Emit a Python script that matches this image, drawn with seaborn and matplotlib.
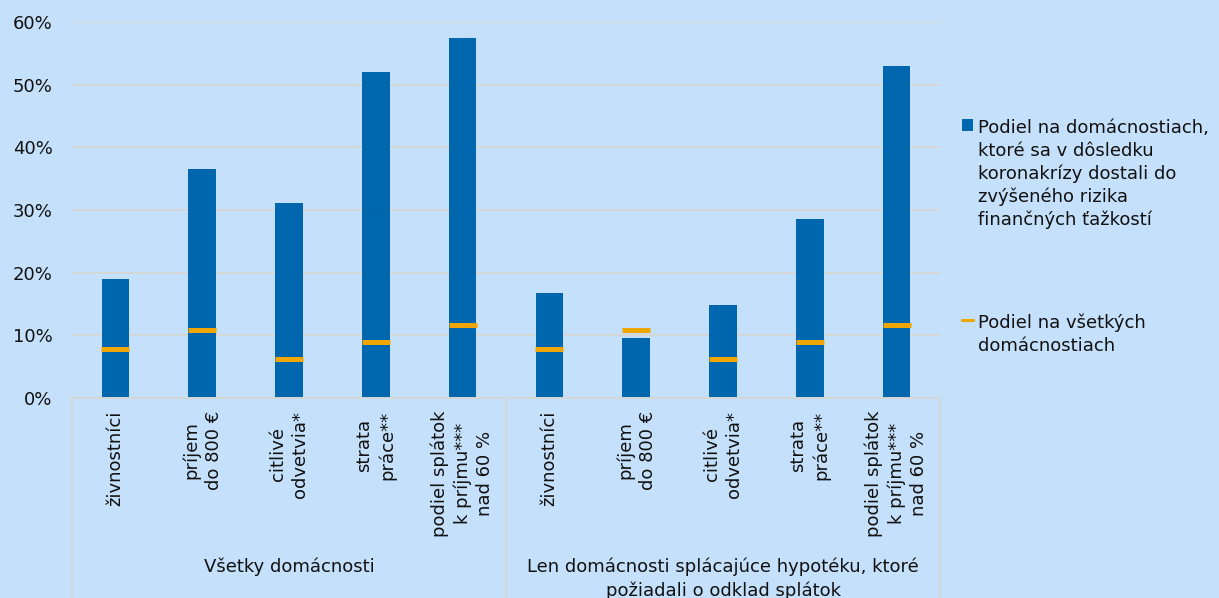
import numpy as np
import pandas as pd
import matplotlib
matplotlib.use("Agg")
import matplotlib.pyplot as plt
import seaborn as sns
from matplotlib.patches import Patch
from matplotlib.lines import Line2D
from matplotlib.ticker import FuncFormatter, MultipleLocator

# --- data -------------------------------------------------------------
categories = [
    "živnostníci",
    "príjem\ndo 800 €",
    "citlivé\nodvetvia*",
    "strata\npráce**",
    "podiel splátok\nk príjmu***\nnad 60 %",
]
groups = [
    "Všetky domácnosti",
    "Len domácnosti splácajúce hypotéku, ktoré\npožiadali o odklad splátok",
]
# share of households that moved into elevated risk of financial distress (%)
risk_share = [19.0, 36.5, 31.1, 52.0, 57.4, 16.8, 9.6, 14.8, 28.5, 52.9]
# share among all households (%)
all_share = [7.8, 10.8, 6.2, 8.9, 11.6, 7.8, 10.8, 6.2, 8.9, 11.6]

legend_labels = [
    "Podiel na domácnostiach,\nktoré sa v dôsledku\nkoronakrízy dostali do\nzvýšeného rizika\nfinančných ťažkostí",
    "Podiel na všetkých\ndomácnostiach",
]

BG = "#C5E0FA"
BLUE = "#0066AD"
ORANGE = "#F0A500"
GRID = "#D6D6D6"
INK = "#111111"

tick_labels = categories * len(groups)
df = pd.DataFrame({
    "pos": np.arange(len(risk_share)),
    "risk": risk_share,
    "all": all_share,
})

# --- figure -----------------------------------------------------------
sns.set_theme(style="white")
plt.rcParams["font.family"] = ["DejaVu Sans"]
plt.rcParams["text.color"] = INK

W, H = 1219, 598
fig = plt.figure(figsize=(W / 100, H / 100), dpi=100, facecolor=BG)
ax = fig.add_axes([72 / W, 200 / H, 868 / W, 376 / H])
ax.set_facecolor(BG)

sns.barplot(data=df, x="pos", y="risk", color=BLUE, saturation=1,
            width=0.32, edgecolor="none", ax=ax, zorder=2)
sns.scatterplot(data=df, x="pos", y="all", marker="_", s=378,
                linewidth=3.6, color=ORANGE, ax=ax, zorder=3, legend=False)

ax.set_xlim(-0.5, len(risk_share) - 0.5)
ax.set_ylim(0, 60)
ax.yaxis.set_major_locator(MultipleLocator(10))
ax.yaxis.set_major_formatter(FuncFormatter(lambda v, _: f"{v:.0f}%"))
ax.yaxis.grid(True, color=GRID, linewidth=1.4)
ax.set_axisbelow(True)
ax.set_xlabel("")
ax.set_ylabel("")

for side in ["top", "right", "left"]:
    ax.spines[side].set_visible(False)
ax.spines["bottom"].set_color(GRID)
ax.spines["bottom"].set_linewidth(1.4)

ax.tick_params(axis="y", length=0, pad=14, labelsize=13, labelcolor=INK)
ax.tick_params(axis="x", length=0, pad=9, labelsize=13, labelcolor=INK)
ax.set_xticks(df["pos"])
ax.set_xticklabels(tick_labels, rotation=90, ha="center", va="top",
                   multialignment="center", linespacing=1.3)

# group separators and group captions below the category labels
sep_depth = -200 / 376
for xf in [0.0, 0.5, 1.0]:
    ax.plot([xf, xf], [0, sep_depth], transform=ax.transAxes, color=GRID,
            linewidth=1.4, clip_on=False)
for i, g in enumerate(groups):
    ax.text(0.25 + 0.5 * i, -(557 - 398) / 376, g, transform=ax.transAxes,
            ha="center", va="top", fontsize=13, multialignment="center",
            linespacing=1.4)

# legend
handles = [
    Patch(facecolor=BLUE, edgecolor="none"),
    Line2D([], [], color=ORANGE, linewidth=2.2),
]
leg = fig.legend(handles, legend_labels, loc="upper left",
                 bbox_to_anchor=(955 / W, 1 - 112 / H), frameon=False,
                 fontsize=13, handlelength=0.6, handleheight=0.6,
                 handletextpad=0.3, labelspacing=4.7, borderaxespad=0)
for t in leg.get_texts():
    t.set_linespacing(1.32)
# keep each handle level with the first line of its label
for column in leg._legend_handle_box.get_children():
    for row in column.get_children():
        row.align = "top"

fig.savefig("out.png", dpi=100, facecolor=BG)
